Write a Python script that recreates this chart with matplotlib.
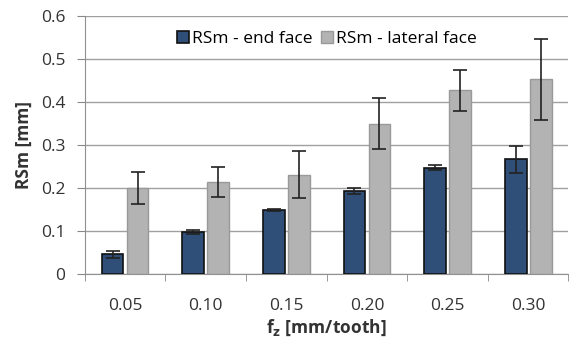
import numpy as np
import matplotlib.pyplot as plt

plt.rcParams['font.family'] = ['Open Sans', 'DejaVu Sans']

# Data
feeds = ['0.05', '0.10', '0.15', '0.20', '0.25', '0.30']
end_face = [0.046, 0.098, 0.149, 0.193, 0.247, 0.267]
end_err = [0.008, 0.005, 0.003, 0.007, 0.006, 0.032]
lateral_face = [0.200, 0.215, 0.231, 0.350, 0.427, 0.453]
lateral_err = [0.037, 0.035, 0.055, 0.060, 0.047, 0.094]

x = np.arange(len(feeds))
w = 0.27

fig = plt.figure(figsize=(5.69, 3.43), dpi=100)
ax = fig.add_axes([0.149, 0.201, 0.85, 0.752])

ax.bar(x - w / 2 - 0.02, end_face, w, color='#2f4f78', edgecolor='#111111',
       linewidth=1.2, label='RSm - end face', zorder=3)
ax.bar(x + w / 2 + 0.02, lateral_face, w, color='#b3b3b3', edgecolor='#999999',
       linewidth=1.0, label='RSm - lateral face', zorder=3)
ax.errorbar(x - w / 2 - 0.02, end_face, yerr=end_err, fmt='none', ecolor='#222222',
            elinewidth=1.2, capsize=5, capthick=1.2, zorder=4)
ax.errorbar(x + w / 2 + 0.02, lateral_face, yerr=lateral_err, fmt='none', ecolor='#222222',
            elinewidth=1.2, capsize=5, capthick=1.2, zorder=4)

fs = 12.5
ax.set_xlim(-0.5, len(feeds) - 0.5)
ax.set_ylim(0, 0.6)
ax.set_yticks([0, 0.1, 0.2, 0.3, 0.4, 0.5, 0.6])
ax.set_yticklabels(['0', '0.1', '0.2', '0.3', '0.4', '0.5', '0.6'])
ax.set_xticks(x)
ax.set_xticklabels(feeds)
ax.set_xticks(np.arange(len(feeds) + 1) - 0.5, minor=True)
ax.tick_params(axis='x', which='major', length=0, pad=17, labelsize=fs, labelcolor='#333333')
ax.tick_params(axis='x', which='minor', length=5, color='#888888')
ax.tick_params(axis='y', length=6, color='#888888', labelsize=fs, labelcolor='#333333', pad=8)

ax.grid(axis='y', color='#a0a0a0', linewidth=1.0, zorder=0)
ax.set_axisbelow(True)
for s in ['top', 'right']:
    ax.spines[s].set_visible(False)
for s in ['left', 'bottom']:
    ax.spines[s].set_color('#909090')

ax.set_ylabel('RSm [mm]', fontsize=fs, fontweight='bold', color='#333333', labelpad=6)
ax.set_xlabel('f$_\\mathbf{z}$ [mm/tooth]', fontsize=fs, fontweight='bold', color='#333333', labelpad=3)

ax.legend(loc='upper center', bbox_to_anchor=(0.5, 1.0), ncol=2, frameon=False,
          fontsize=fs, handlelength=0.7, handleheight=0.7, columnspacing=0.5,
          handletextpad=0.15, borderaxespad=0.45)

fig.savefig('out.png', dpi=100)
